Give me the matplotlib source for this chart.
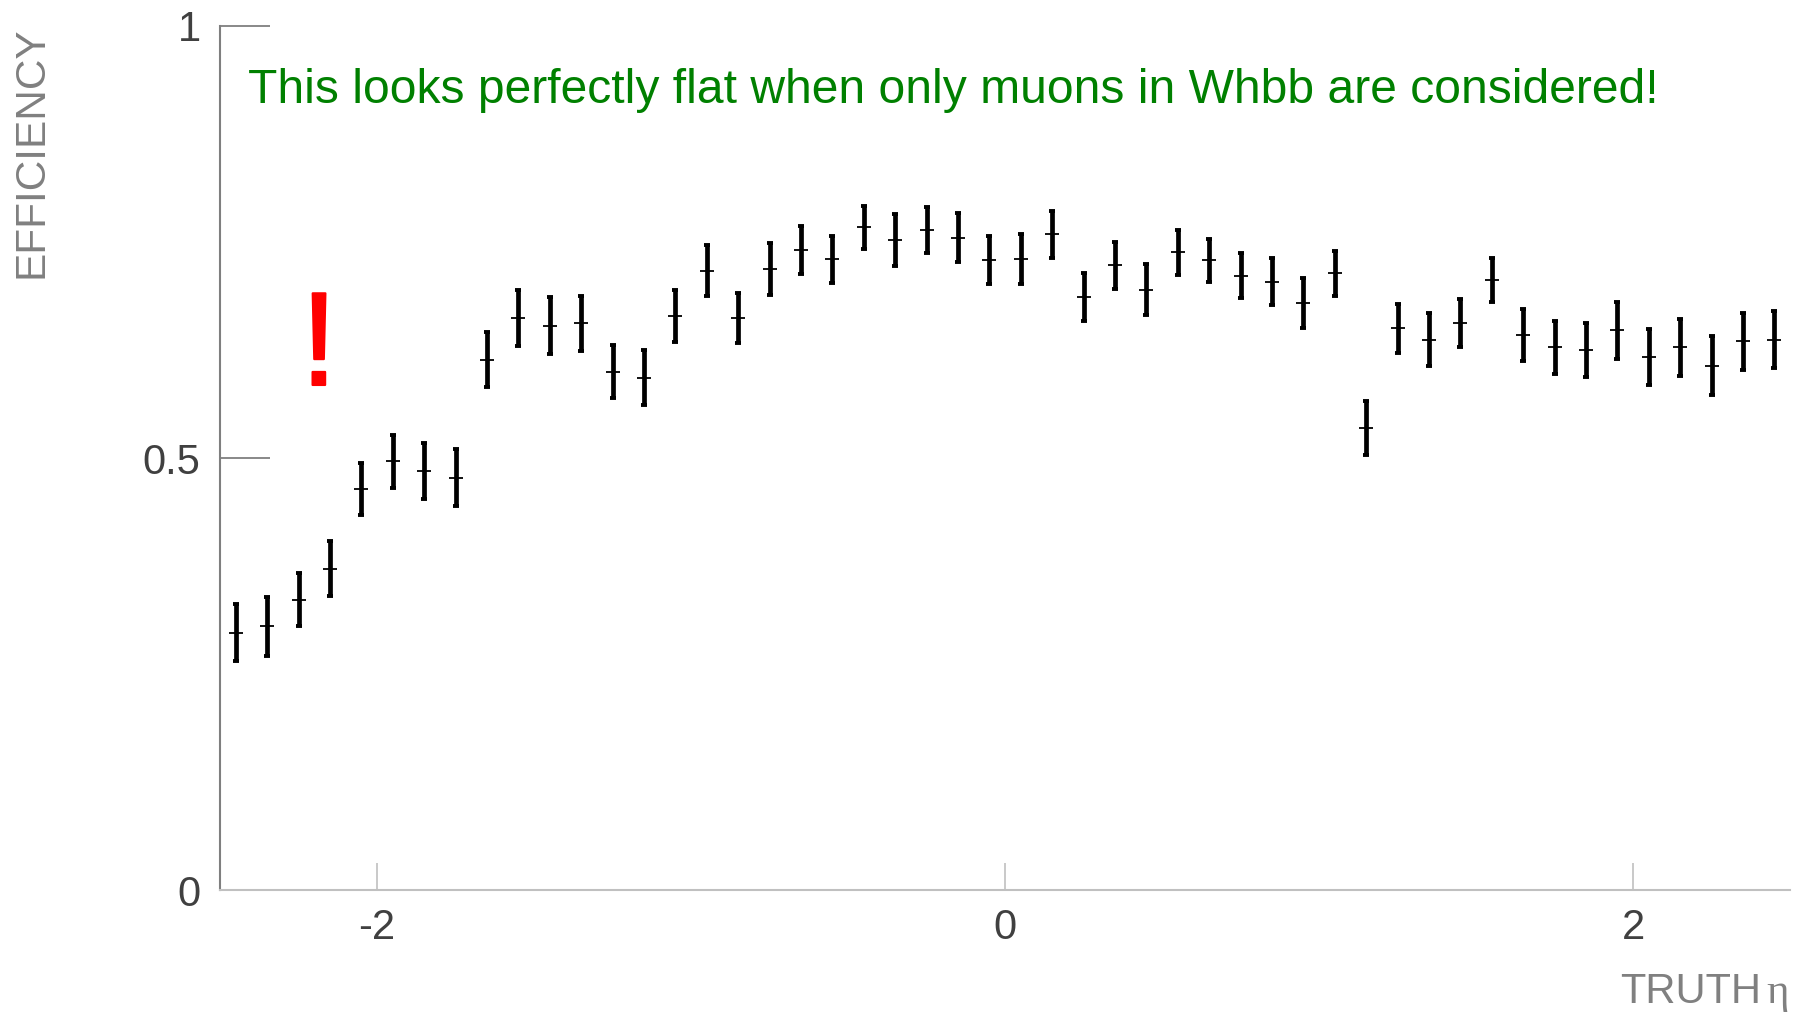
import numpy as np
import matplotlib
matplotlib.use("Agg")
import matplotlib.pyplot as plt

plt.rcParams['font.family'] = ['Liberation Sans', 'DejaVu Sans']

# ---- data -------------------------------------------------------------
eta_centers = np.linspace(-2.45, 2.45, 50)
efficiency = [0.298, 0.305, 0.336, 0.372, 0.464, 0.496, 0.485, 0.477, 0.614, 0.662,
              0.653, 0.656, 0.600, 0.593, 0.664, 0.717, 0.662, 0.719, 0.741, 0.730,
              0.767, 0.752, 0.764, 0.755, 0.729, 0.730, 0.759, 0.686, 0.723, 0.695,
              0.738, 0.729, 0.711, 0.704, 0.679, 0.714, 0.535, 0.650, 0.637, 0.656,
              0.706, 0.642, 0.628, 0.625, 0.648, 0.617, 0.628, 0.607, 0.635, 0.637]
eff_error = [0.033, 0.034, 0.031, 0.032, 0.030, 0.031, 0.032, 0.033, 0.032, 0.032,
             0.033, 0.032, 0.031, 0.032, 0.030, 0.029, 0.029, 0.030, 0.028, 0.027,
             0.025, 0.030, 0.027, 0.028, 0.028, 0.029, 0.027, 0.028, 0.027, 0.029,
             0.026, 0.025, 0.026, 0.027, 0.029, 0.026, 0.031, 0.028, 0.031, 0.028,
             0.026, 0.030, 0.031, 0.031, 0.033, 0.032, 0.033, 0.034, 0.033, 0.033]
x_ticks = [-2, 0, 2]
x_ticklabels = ['-2', '0', '2']
y_ticks = [0, 0.5, 1]
y_ticklabels = ['0', '0.5', '1']
annotation = "This looks perfectly flat when only muons in Whbb are considered!"

# ---- figure -----------------------------------------------------------
W, H = 1800, 1013
fig = plt.figure(figsize=(W / 100, H / 100), dpi=100)
ax = fig.add_axes([220 / W, 123 / H, 1570 / W, 864 / H])
ax.set_xlim(-2.5, 2.5)
ax.set_ylim(0, 1)

for s in ('top', 'right'):
    ax.spines[s].set_visible(False)
ax.spines['left'].set_color('#7f7f7f')
ax.spines['left'].set_linewidth(1.5)
ax.spines['bottom'].set_color('#c0c0c0')
ax.spines['bottom'].set_linewidth(1.5)

ax.set_xticks(x_ticks)
ax.set_xticklabels(x_ticklabels)
ax.set_yticks(y_ticks)
ax.set_yticklabels(y_ticklabels)
ax.tick_params(axis='y', direction='in', length=36, width=1.3, color='#7f7f7f',
               pad=14, labelsize=30, labelcolor='#404040')
ax.tick_params(axis='x', direction='in', length=19.5, width=1.2, color='#c0c0c0',
               pad=13, labelsize=30, labelcolor='#404040')

# error bars + central crossbars
ax.errorbar(eta_centers, efficiency, yerr=eff_error, fmt='none', ecolor='black',
            elinewidth=3.4, capsize=2.2, capthick=2.8, zorder=3)
ax.plot(eta_centers, efficiency, ls='none', marker='_', ms=10, mew=1.3,
        color='black', zorder=4)

# labels
ax.set_ylabel('EFFICIENCY', fontsize=30.5, color='#808080', ha='right', va='center')
ax.yaxis.set_label_coords((32 - 220) / 1570, (890 - 26) / 864)
ax.set_xlabel('TRUTH', fontsize=30, color='#808080', ha='right', va='baseline')
ax.xaxis.set_label_coords((1761 - 220) / 1570, -(1003 - 890) / 864)
ax.text((1766 - 220) / 1570, -(1003 - 890) / 864, 'η', transform=ax.transAxes,
        fontsize=31, color='#808080', family=['Liberation Serif', 'DejaVu Serif'],
        ha='left', va='baseline')

# annotations
ax.text((248 - 220) / 1570, (890 - 103) / 864, annotation, transform=ax.transAxes,
        fontsize=34.6, color='#008000', ha='left', va='baseline')
ax.text((319 - 220) / 1570, (890 - 385) / 864, '!', transform=ax.transAxes,
        fontsize=96, color='#ff0000', ha='center', va='baseline',
        path_effects=[__import__('matplotlib.patheffects', fromlist=['x']).withStroke(
            linewidth=1.5, foreground='#ff0000')])

fig.savefig('out.png', dpi=100)
